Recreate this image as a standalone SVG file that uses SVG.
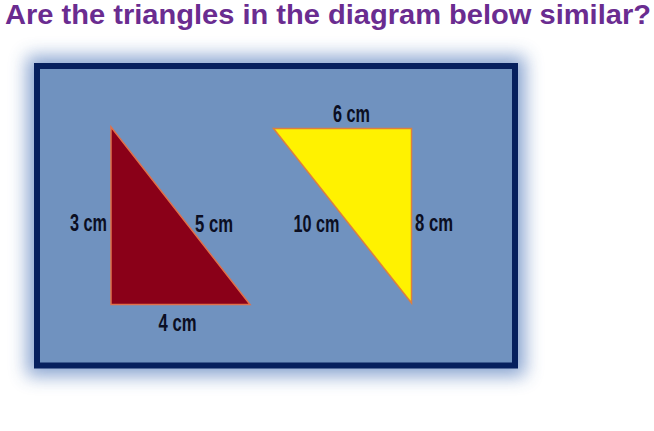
<svg xmlns="http://www.w3.org/2000/svg" width="654" height="431" viewBox="0 0 654 431">
<defs>
<filter id="glow" x="-20%" y="-20%" width="140%" height="140%">
<feGaussianBlur stdDeviation="9"/>
</filter>
</defs>
<style>
.title{font-family:"Liberation Sans",Arial,sans-serif;font-weight:bold;font-size:28px;fill:#6A2C90}
.lbl{font-family:"Liberation Sans",Arial,sans-serif;font-weight:bold;font-size:24px;fill:#0B0E22}
</style>
<rect width="654" height="431" fill="#FFFFFF"/>
<text class="title" x="5" y="23.5" textLength="646" lengthAdjust="spacingAndGlyphs">Are the triangles in the diagram below similar?</text>
<g id="frame">
<rect x="27" y="56" width="498" height="320" fill="#7C9ACB" filter="url(#glow)" opacity="0.9"/>
<rect x="37" y="66" width="478" height="299.5" fill="#7092BF" stroke="#06205E" stroke-width="6"/>
</g>
<g id="red-triangle">
<polygon points="111,127 111,304.5 250,304.5" fill="#8A0018" stroke="#E0704A" stroke-width="1.5" stroke-linejoin="miter"/>
<text class="lbl" x="70" y="230.5" textLength="37" lengthAdjust="spacingAndGlyphs">3 cm</text>
<text class="lbl" x="195" y="231.5" textLength="38" lengthAdjust="spacingAndGlyphs">5 cm</text>
<text class="lbl" x="158.5" y="330.5" textLength="38" lengthAdjust="spacingAndGlyphs">4 cm</text>
</g>
<g id="yellow-triangle">
<polygon points="273.5,128.5 411.5,128.5 411.5,303" fill="#FFF200" stroke="#DC8040" stroke-width="1.5"/>
<text class="lbl" x="333" y="121.5" textLength="37" lengthAdjust="spacingAndGlyphs">6 cm</text>
<text class="lbl" x="293.5" y="231.5" textLength="46" lengthAdjust="spacingAndGlyphs">10 cm</text>
<text class="lbl" x="415" y="231" textLength="38" lengthAdjust="spacingAndGlyphs">8 cm</text>
</g>
<g id="connectors"/>
</svg>
